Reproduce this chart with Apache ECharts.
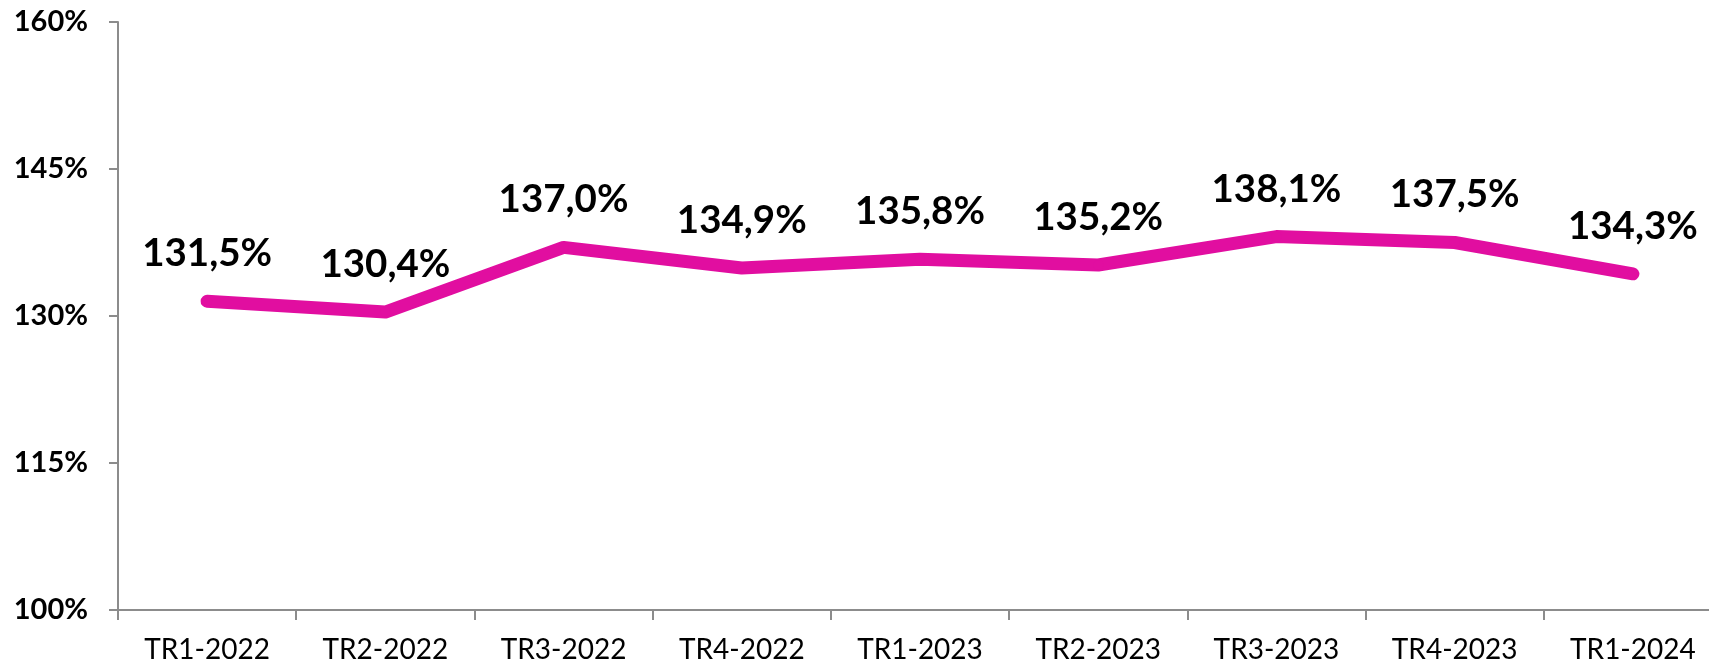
<!DOCTYPE html>
<html>
<head>
<meta charset="utf-8">
<style>
  html, body { margin: 0; padding: 0; background: #ffffff; }
  #chart { width: 1709px; height: 665px; }
</style>
<script src="https://cdn.jsdelivr.net/npm/echarts@6/dist/echarts.min.js"></script>
</head>
<body>
<div id="chart"></div>
<script>
// Quarterly ratio, in percent
const categories = ['TR1-2022', 'TR2-2022', 'TR3-2022', 'TR4-2022', 'TR1-2023', 'TR2-2023', 'TR3-2023', 'TR4-2023', 'TR1-2024'];
const ratioValues = [131.5, 130.4, 137.0, 134.9, 135.8, 135.2, 138.1, 137.5, 134.3];
const yTicks = [100, 115, 130, 145, 160];

const FONT = 'Lato, "Open Sans", "Noto Sans", sans-serif';
const AXIS_GREY = '#8c8c8c';
const LINE_COLOR = '#E10EA0';

const fmt = v => v.toFixed(1).replace('.', ',') + '%';

const chart = echarts.init(document.getElementById('chart'), null, { renderer: 'canvas' });

chart.setOption({
  backgroundColor: '#ffffff',
  animation: false,
  // the last category band runs past the right edge of the canvas
  grid: {
    left: 118, width: 1604, top: 22, bottom: 55,
    containLabel: false, outerBoundsMode: 'none'
  },
  xAxis: {
    type: 'category',
    data: categories,
    boundaryGap: true,
    axisLine: { show: true, lineStyle: { color: AXIS_GREY, width: 2 } },
    axisTick: { show: true, alignWithLabel: false, length: 10, lineStyle: { color: AXIS_GREY, width: 2 } },
    axisLabel: { color: '#000000', fontFamily: FONT, fontSize: 28, margin: 26 },
    splitLine: { show: false }
  },
  yAxis: {
    type: 'value',
    min: yTicks[0],
    max: yTicks[yTicks.length - 1],
    interval: yTicks[1] - yTicks[0],
    axisLine: { show: true, lineStyle: { color: AXIS_GREY, width: 2 } },
    axisTick: { show: true, length: 9, lineStyle: { color: AXIS_GREY, width: 2 } },
    axisLabel: {
      color: '#000000', fontFamily: FONT, fontSize: 29, fontWeight: 'bold', margin: 30,
      formatter: v => v + '%'
    },
    splitLine: { show: false }
  },
  series: [{
    type: 'line',
    data: ratioValues,
    symbol: 'circle',
    symbolSize: 10,
    showSymbol: true,
    clip: false,
    lineStyle: { color: LINE_COLOR, width: 13, cap: 'round', join: 'round' },
    itemStyle: { color: LINE_COLOR, borderWidth: 0 },
    label: {
      show: true,
      position: 'top',
      distance: 23,
      color: '#000000',
      fontFamily: FONT,
      fontSize: 38.5,
      fontWeight: 'bold',
      formatter: p => fmt(p.value)
    },
    labelLayout: { hideOverlap: false }
  }]
});
</script>
</body>
</html>
